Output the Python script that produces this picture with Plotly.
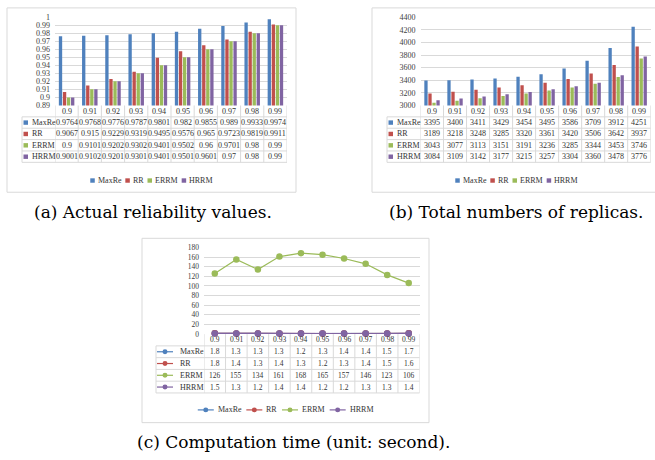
import plotly.graph_objects as go

W, H = 655, 460

# ---------------- data ----------------
thresholds = ["0.9", "0.91", "0.92", "0.93", "0.94", "0.95", "0.96", "0.97", "0.98", "0.99"]
series = ["MaxRe", "RR", "ERRM", "HRRM"]
colors = ["#4F81BD", "#C0504D", "#9BBB59", "#8064A2"]

rel_maxre = [0.9764, 0.9768, 0.9776, 0.9787, 0.9801, 0.982, 0.9855, 0.989, 0.9933, 0.9974]
rel_rr = [0.9067, 0.915, 0.9229, 0.9319, 0.9495, 0.9576, 0.965, 0.9723, 0.9819, 0.9911]
rel_errm = [0.9, 0.9101, 0.9202, 0.9302, 0.9401, 0.9502, 0.96, 0.9701, 0.98, 0.99]
rel_hrrm = [0.9001, 0.9102, 0.9201, 0.9301, 0.9401, 0.9501, 0.9601, 0.97, 0.98, 0.99]

rep_maxre = [3395, 3400, 3411, 3429, 3454, 3495, 3586, 3709, 3912, 4251]
rep_rr = [3189, 3218, 3248, 3285, 3320, 3361, 3420, 3506, 3642, 3937]
rep_errm = [3043, 3077, 3113, 3151, 3191, 3236, 3285, 3344, 3453, 3746]
rep_hrrm = [3084, 3109, 3142, 3177, 3215, 3257, 3304, 3360, 3478, 3776]

time_maxre = [1.8, 1.3, 1.3, 1.3, 1.2, 1.3, 1.4, 1.4, 1.5, 1.7]
time_rr = [1.8, 1.4, 1.3, 1.4, 1.3, 1.2, 1.3, 1.4, 1.5, 1.6]
time_errm = [126, 155, 134, 161, 168, 165, 157, 146, 123, 106]
time_hrrm = [1.5, 1.3, 1.2, 1.4, 1.4, 1.2, 1.2, 1.3, 1.3, 1.4]

rel_tickvals = [0.89, 0.90, 0.91, 0.92, 0.93, 0.94, 0.95, 0.96, 0.97, 0.98, 0.99, 1.0]
rel_ticktext = ["0.89", "0.9", "0.91", "0.92", "0.93", "0.94", "0.95", "0.96", "0.97", "0.98", "0.99", "1"]
rep_tickvals = [3000, 3200, 3400, 3600, 3800, 4000, 4200, 4400]
time_tickvals = [0, 20, 40, 60, 80, 100, 120, 140, 160, 180]

captions = ["(a) Actual reliability values.",
            "(b) Total numbers of replicas.",
            "(c) Computation time (unit: second)."]

# ---------------- layout helpers ----------------
FONT = "'Liberation Serif', 'Times New Roman', Times, serif"
TXT = "#333333"
GRID = "#D9D9D9"
CAP_FONT = "'DejaVu Serif', serif"


def fx(p):
    return p / W


def fy(p):
    return 1 - p / H


TIMES_W = {"M": .889, "a": .444, "x": .5, "R": .667, "e": .444, "E": .611, "H": .722, " ": .25}


def tw(s, size):
    return sum(TIMES_W.get(c, .5) for c in s) * size


panels = [
    dict(key="", box=(7, 4, 296, 192), plot=(55, 287, 13.5, 103.5), lab=22, rowh=11.6,
         rng=[0.89, 1.0], tv=rel_tickvals, tt=rel_ticktext,
         data=[rel_maxre, rel_rr, rel_errm, rel_hrrm], kind="bar", num=8,
         leg=(151, 180), cap=(153, 212)),
    dict(key="2", box=(372, 4, 660, 192), plot=(420.5, 650.7, 13.5, 103.5), lab=387, rowh=11.6,
         rng=[3000, 4400], tv=rep_tickvals, tt=[str(v) for v in rep_tickvals],
         data=[rep_maxre, rep_rr, rep_errm, rep_hrrm], kind="bar", num=8,
         leg=(516, 180), cap=(516, 212)),
    dict(key="3", box=(142, 239, 429, 427), plot=(204, 419.5, 248.3, 336.7), lab=156, rowh=12,
         rng=[0, 180], tv=time_tickvals, tt=[str(v) for v in time_tickvals],
         data=[time_maxre, time_rr, time_errm, time_hrrm], kind="line", num=7.5,
         leg=(285, 414), cap=(293, 447)),
]

fig = go.Figure()
shapes = []
annotations = []
layout_axes = {}

xs = list(range(len(thresholds)))

for p in panels:
    k = p["key"]
    xa, ya = "x" + k, "y" + k
    x0, x1, yt, yb = p["plot"]
    layout_axes["xaxis" + k] = dict(domain=[fx(x0), fx(x1)], range=[-0.5, len(thresholds) - 0.5],
                                    anchor=ya, showticklabels=False, showgrid=False,
                                    zeroline=False, showline=False, ticks="", fixedrange=True)
    layout_axes["yaxis" + k] = dict(domain=[fy(yb), fy(yt)], range=p["rng"], anchor=xa,
                                    tickvals=p["tv"], ticktext=p["tt"], showgrid=True,
                                    gridcolor=GRID, gridwidth=1, zeroline=False, showline=False,
                                    ticks="", ticklabelstandoff=4,
                                    tickfont=dict(family=FONT, size=p["num"] if k == "3" else 8, color="#404040"),
                                    fixedrange=True)
    for s, vals, col in zip(series, p["data"], colors):
        if p["kind"] == "bar":
            fig.add_trace(go.Bar(x=xs, y=vals, name=s, marker=dict(color=col, line=dict(width=0)),
                                 xaxis=xa, yaxis=ya, showlegend=False, hoverinfo="skip"))
        else:
            fig.add_trace(go.Scatter(x=xs, y=vals, name=s, mode="lines+markers",
                                     line=dict(color=col, width=1.2),
                                     marker=dict(color=col, size=6.5),
                                     xaxis=xa, yaxis=ya, showlegend=False, cliponaxis=False,
                                     hoverinfo="skip"))
    bx0, by0, bx1, by1 = p["box"]
    shapes.append(dict(type="rect", xref="paper", yref="paper", x0=fx(bx0), x1=fx(bx1),
                       y0=fy(by1), y1=fy(by0), line=dict(color=GRID, width=1), layer="below"))
    rh = p["rowh"]
    lab = p["lab"]
    nrows = len(series)
    tbot = yb + rh * (nrows + 1)
    for i in range(len(thresholds) + 1):
        shapes.append(dict(type="line", xref=xa, yref="paper", x0=i - 0.5, x1=i - 0.5,
                           y0=fy(yb), y1=fy(tbot), line=dict(color=GRID, width=1)))
    shapes.append(dict(type="line", xref="paper", yref="paper", x0=fx(lab), x1=fx(lab),
                       y0=fy(yb + rh), y1=fy(tbot), line=dict(color=GRID, width=1)))
    for r in range(1, nrows + 2):
        yy = yb + rh * r
        shapes.append(dict(type="line", xref="paper", yref="paper", x0=fx(lab), x1=fx(x1),
                           y0=fy(yy), y1=fy(yy), line=dict(color=GRID, width=1)))
    for i, t in enumerate(thresholds):
        annotations.append(dict(x=i, xref=xa, y=fy(yb + rh / 2), yref="paper", text=t,
                                showarrow=False, xanchor="center", yanchor="middle",
                                font=dict(family=FONT, size=p["num"], color=TXT)))
    for r, (s, vals, col) in enumerate(zip(series, p["data"], colors)):
        yc = yb + rh * (r + 1.5)
        for i, v in enumerate(vals):
            annotations.append(dict(x=i, xref=xa, y=fy(yc), yref="paper", text=str(v),
                                    showarrow=False, xanchor="center", yanchor="middle",
                                    font=dict(family=FONT, size=p["num"], color=TXT)))
        if p["kind"] == "bar":
            shapes.append(dict(type="rect", xref="paper", yref="paper", x0=fx(lab + 1.5),
                               x1=fx(lab + 6), y0=fy(yc + 2.3), y1=fy(yc - 2.2),
                               fillcolor=col, line=dict(width=0)))
            tx = lab + 7.5
        else:
            shapes.append(dict(type="line", xref="paper", yref="paper", x0=fx(lab + 1),
                               x1=fx(lab + 17), y0=fy(yc), y1=fy(yc),
                               line=dict(color=col, width=1.2)))
            shapes.append(dict(type="circle", xref="paper", yref="paper", x0=fx(lab + 6.5),
                               x1=fx(lab + 11.5), y0=fy(yc + 2.5), y1=fy(yc - 2.5),
                               fillcolor=col, line=dict(width=0)))
            tx = lab + 22
        annotations.append(dict(x=fx(tx), xref="paper", y=fy(yc), yref="paper", text=s,
                                showarrow=False, xanchor="left", yanchor="middle",
                                font=dict(family=FONT, size=8, color=TXT)))
    lcx, lcy = p["leg"]
    fs = 8
    if p["kind"] == "bar":
        keyw, gap1, gap2 = 4.5, 2.0, 5.0
    else:
        keyw, gap1, gap2 = 16.0, 3.0, 6.0
    widths = [keyw + gap1 + tw(s, fs) for s in series]
    total = sum(widths) + gap2 * (len(series) - 1)
    cx = lcx - total / 2
    for s, col, wdt in zip(series, colors, widths):
        if p["kind"] == "bar":
            shapes.append(dict(type="rect", xref="paper", yref="paper", x0=fx(cx), x1=fx(cx + keyw),
                               y0=fy(lcy + 2.3), y1=fy(lcy - 2.2), fillcolor=col, line=dict(width=0)))
        else:
            shapes.append(dict(type="line", xref="paper", yref="paper", x0=fx(cx), x1=fx(cx + keyw),
                               y0=fy(lcy), y1=fy(lcy), line=dict(color=col, width=1.2)))
            shapes.append(dict(type="circle", xref="paper", yref="paper", x0=fx(cx + keyw / 2 - 2.5),
                               x1=fx(cx + keyw / 2 + 2.5), y0=fy(lcy + 2.5), y1=fy(lcy - 2.5),
                               fillcolor=col, line=dict(width=0)))
        annotations.append(dict(x=fx(cx + keyw + gap1), xref="paper", y=fy(lcy), yref="paper",
                                text=s, showarrow=False, xanchor="left", yanchor="middle",
                                borderpad=0,
                                font=dict(family=FONT, size=fs, color=TXT)))
        cx += wdt + gap2

for cap, p in zip(captions, panels):
    ccx, ccy = p["cap"]
    annotations.append(dict(x=fx(ccx), xref="paper", y=fy(ccy), yref="paper", text=cap,
                            showarrow=False, xanchor="center", yanchor="middle",
                            font=dict(family=CAP_FONT, size=17, color="#000000")))

fig.update_layout(
    width=W, height=H,
    margin=dict(l=0, r=0, t=0, b=0),
    paper_bgcolor="white", plot_bgcolor="white",
    barmode="group", bargap=0.3, bargroupgap=0.18,
    shapes=shapes, annotations=annotations,
    showlegend=False,
    font=dict(family=FONT, color=TXT),
    **layout_axes,
)

fig.write_html("out.html", config={"displayModeBar": False},
               post_script="document.body.style.margin='0';document.body.style.overflow='hidden';")
